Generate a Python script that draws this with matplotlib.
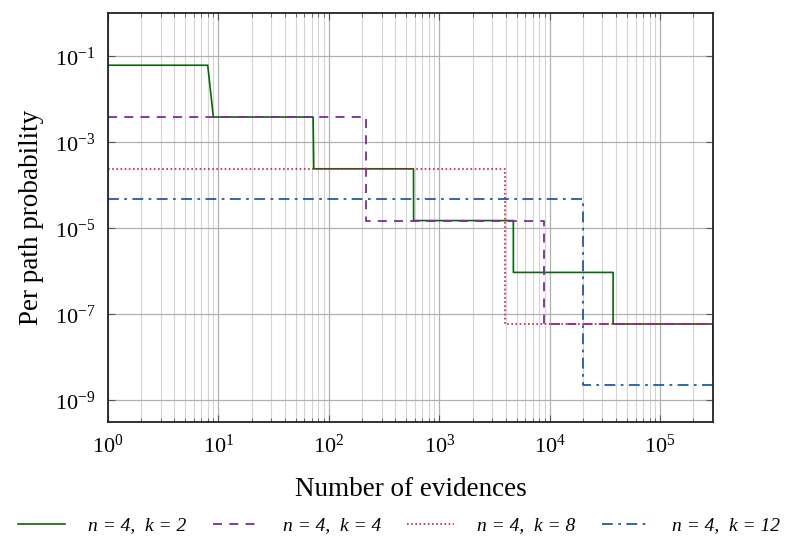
import matplotlib
matplotlib.use("Agg")
from matplotlib import pyplot as plt
from matplotlib import ticker
import numpy as np

plt.rcParams['font.family'] = ['Liberation Serif', 'DejaVu Serif']
plt.rcParams['mathtext.fontset'] = 'custom'
plt.rcParams['mathtext.rm'] = 'Liberation Serif'
plt.rcParams['mathtext.it'] = 'Liberation Serif:italic'

# values
k2_x = [1, 8, 9, 72, 73, 584, 585, 4680, 4681, 37448, 37449, 299592, 299592]
k2_y = [1/16, 1/16, 1/256, 1/256, 1/4096, 1/4096, 1/65536, 1/65536,
        9.5e-7, 9.5e-7, 6.0e-8, 6.0e-8, 3.7e-9]
k4_x = [1, 217, 217, 8850, 8850, 299592]
k4_y = [1/256, 1/256, 1/65536, 1/65536, 6.0e-8, 6.0e-8]
k8_x = [1, 3930, 3930, 299592]
k8_y = [1/4096, 1/4096, 6.0e-8, 6.0e-8]
k12_x = [1, 20100, 20100, 299592]
k12_y = [4.85e-5, 4.85e-5, 2.3e-9, 2.3e-9]

labels = ["n = 4,  k = 2", "n = 4,  k = 4", "n = 4,  k = 8", "n = 4,  k = 12"]
y_ticks = [1e-9, 1e-7, 1e-5, 1e-3, 1e-1]

fig = plt.figure(figsize=(7.98, 5.39), dpi=100)
ax = fig.add_axes([0.1353, 0.2176, 0.758, 0.7574])

ax.plot(k2_x, k2_y, color='#0b640b', lw=1.2, ls='-', label=labels[0])
ax.plot(k4_x, k4_y, color='#7d2a9c', lw=1.3, ls=(0, (5, 4)), label=labels[1])
ax.plot(k8_x, k8_y, color='#c4213a', lw=1.2, ls=(0, (1, 1.5)), label=labels[2])
ax.plot(k12_x, k12_y, color='#1f5aa8', lw=1.3, ls=(0, (6, 3, 1.5, 3)), label=labels[3])

ax.set_xscale('log')
ax.set_yscale('log')
ax.set_xlim(1, 299592)
ax.set_ylim(3.2e-10, 1.0)

ax.xaxis.set_major_locator(ticker.LogLocator(base=10, numticks=10))
ax.xaxis.set_minor_locator(ticker.LogLocator(base=10, subs=np.arange(2, 10), numticks=20))
ax.xaxis.set_minor_formatter(ticker.NullFormatter())
ax.yaxis.set_major_locator(ticker.FixedLocator(y_ticks))
ax.yaxis.set_minor_locator(ticker.NullLocator())

ax.grid(True, which='major', color='#b0b0b0', lw=0.9)
ax.grid(True, which='minor', axis='x', color='#d4d4d4', lw=0.8)
ax.set_axisbelow(True)

ax.tick_params(which='both', direction='in', top=True, right=True, labelsize=16,
               color='#555555')
ax.tick_params(which='major', length=5, width=0.8, pad=9)
ax.tick_params(which='minor', length=3, width=0.6)
for s in ax.spines.values():
    s.set_linewidth(1.3)
    s.set_color('#222222')

ax.set_xlabel("Number of evidences", fontsize=19.5, labelpad=14)
ax.set_ylabel("Per path probability", fontsize=19.5, labelpad=8)

fig.legend(loc='center', bbox_to_anchor=(0.5, 0.025), ncol=4, frameon=False,
           prop={'family': 'Liberation Serif', 'style': 'italic', 'size': 14},
           handlelength=2.4, handletextpad=1.2, columnspacing=1.35)

fig.savefig("out.png", dpi=100)
